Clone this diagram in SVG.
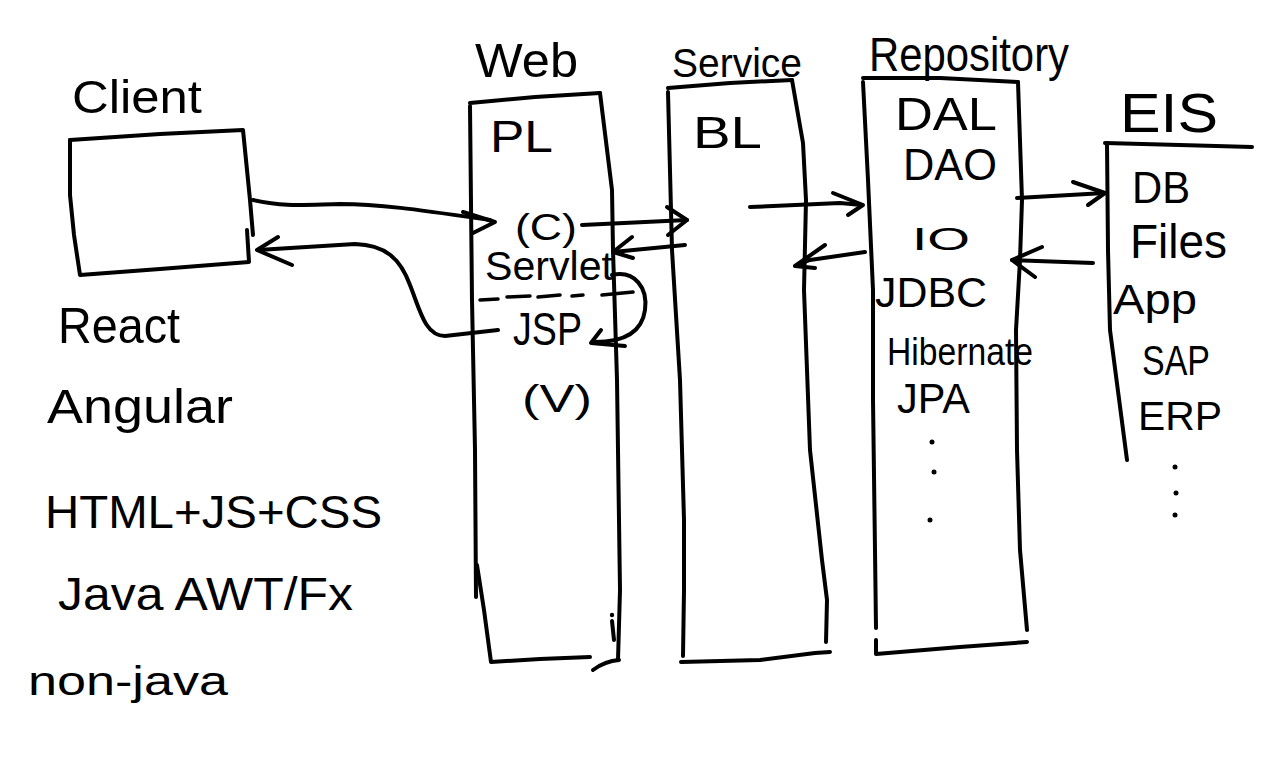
<svg xmlns="http://www.w3.org/2000/svg" width="1280" height="768" viewBox="0 0 1280 768">
<defs>
<style>
.ink{fill:none;stroke:#000;stroke-width:4;stroke-linecap:round;stroke-linejoin:round}
.dash{fill:none;stroke:#000;stroke-width:3.5;stroke-linecap:round}
.t{font-family:"Liberation Sans","DejaVu Sans",sans-serif;fill:#000}
.dot{fill:#000}
</style>
</defs>
<rect width="1280" height="768" fill="#fff"/>

<g id="client">
<path class="ink" d="M70,140 L160,134 L243,130 L250,200 L253,235"/>
<path class="ink" d="M247,230 L249,262 L160,269 L80,275 L74,235 L70,195 L70,140"/>
<text class="t" x="72" y="113" font-size="46" textLength="130" lengthAdjust="spacingAndGlyphs">Client</text>
</g>

<g id="client-tech">
<text class="t" x="58" y="343" font-size="50" textLength="122" lengthAdjust="spacingAndGlyphs">React</text>
<text class="t" x="47" y="423" font-size="48" textLength="186" lengthAdjust="spacingAndGlyphs">Angular</text>
<text class="t" x="45" y="528" font-size="46" textLength="337" lengthAdjust="spacingAndGlyphs">HTML+JS+CSS</text>
<text class="t" x="58" y="610" font-size="46" textLength="295" lengthAdjust="spacingAndGlyphs">Java AWT/Fx</text>
<text class="t" x="28" y="695" font-size="40" textLength="200" lengthAdjust="spacingAndGlyphs">non-java</text>
</g>

<g id="web">
<text class="t" x="475" y="77" font-size="48" textLength="103" lengthAdjust="spacingAndGlyphs">Web</text>
<path class="ink" d="M470,103 L535,97 L600,93"/>
<path class="ink" d="M470,106 L472,300 L475,450 L476,597"/>
<path class="ink" d="M477,565 L484,610 L491,662 L540,659 L590,657"/>
<path class="ink" d="M600,93 L612,190 L613,250 L617,380 L620,590 L618,660"/>
<path class="ink" d="M593,670 Q605,661 619,660"/>
<path class="ink" d="M612,621 L614,640"/>
<circle class="dot" cx="612" cy="615" r="2.2"/>
<text class="t" x="490" y="152" font-size="44" textLength="63" lengthAdjust="spacingAndGlyphs">PL</text>
<text class="t" x="515" y="240" font-size="36" textLength="62" lengthAdjust="spacingAndGlyphs">(C)</text>
<text class="t" x="485" y="280" font-size="40" textLength="128" lengthAdjust="spacingAndGlyphs">Servlet</text>
<text class="t" x="513" y="345" font-size="46" textLength="69" lengthAdjust="spacingAndGlyphs">JSP</text>
<text class="t" x="522" y="412" font-size="38" textLength="70" lengthAdjust="spacingAndGlyphs">(V)</text>
</g>

<g id="service">
<text class="t" x="672" y="77" font-size="40" textLength="130" lengthAdjust="spacingAndGlyphs">Service</text>
<path class="ink" d="M668,88 L730,83 L792,80"/>
<path class="ink" d="M668,92 L672,250 L680,380 L684,520 L684,590 L683,656"/>
<path class="ink" d="M681,662 L760,660 L815,653 L830,652"/>
<path class="ink" d="M792,80 L803,143 L806,200 L804,290 L810,450 L822,560 L827,600 L826,642"/>
<text class="t" x="693" y="148" font-size="44" textLength="69" lengthAdjust="spacingAndGlyphs">BL</text>
</g>

<g id="repository">
<text class="t" x="869" y="71" font-size="48" textLength="200" lengthAdjust="spacingAndGlyphs">Repository</text>
<path class="ink" d="M863,78 L940,78 L1018,82"/>
<path class="ink" d="M863,82 L868,180 L873,290 L873,400 L875,550 L876,628"/>
<path class="ink" d="M876,640 L876,654 L960,647 L1027,642"/>
<path class="ink" d="M1018,82 L1022,200 L1020,260 L1016,330 L1017,450 L1020,550 L1027,630"/>
<text class="t" x="895" y="130" font-size="46" textLength="102" lengthAdjust="spacingAndGlyphs">DAL</text>
<text class="t" x="903" y="180" font-size="44" textLength="94" lengthAdjust="spacingAndGlyphs">DAO</text>
<text class="t" x="912" y="250" font-size="32" textLength="58" lengthAdjust="spacingAndGlyphs">IO</text>
<text class="t" x="875" y="307" font-size="42" textLength="112" lengthAdjust="spacingAndGlyphs">JDBC</text>
<text class="t" x="887" y="365" font-size="38" textLength="146" lengthAdjust="spacingAndGlyphs">Hibernate</text>
<text class="t" x="897" y="413" font-size="42" textLength="73" lengthAdjust="spacingAndGlyphs">JPA</text>
<circle class="dot" cx="932" cy="442" r="2.5"/>
<circle class="dot" cx="934" cy="472" r="2.5"/>
<circle class="dot" cx="930" cy="520" r="2.5"/>
</g>

<g id="eis">
<text class="t" x="1120" y="132" font-size="56" textLength="98" lengthAdjust="spacingAndGlyphs">EIS</text>
<path class="ink" d="M1105,143 L1180,145 L1252,147"/>
<path class="ink" d="M1107,143 L1108,250 L1110,330 L1127,460"/>
<text class="t" x="1132" y="203" font-size="44" textLength="58" lengthAdjust="spacingAndGlyphs">DB</text>
<text class="t" x="1130" y="258" font-size="48" textLength="97" lengthAdjust="spacingAndGlyphs">Files</text>
<text class="t" x="1113" y="314" font-size="42" textLength="84" lengthAdjust="spacingAndGlyphs">App</text>
<text class="t" x="1142" y="375" font-size="42" textLength="68" lengthAdjust="spacingAndGlyphs">SAP</text>
<text class="t" x="1138" y="430" font-size="40" textLength="84" lengthAdjust="spacingAndGlyphs">ERP</text>
<circle class="dot" cx="1175" cy="467" r="2.5"/>
<circle class="dot" cx="1176" cy="493" r="2.5"/>
<circle class="dot" cx="1175" cy="515" r="2.5"/>
</g>

<g id="connectors">
<path class="ink" d="M253,200 C285,207 300,205 340,204 C380,204 420,210 490,220"/>
<path class="ink" d="M463,212 L495,222 L473,233"/>
<path class="ink" d="M498,330 L445,336 C425,336 420,310 410,285 C400,258 385,245 355,244 L258,250"/>
<path class="ink" d="M278,237 L257,250 L292,265"/>
<path class="ink" d="M582,225 L687,220"/>
<path class="ink" d="M667,207 L687,220 L668,235"/>
<path class="ink" d="M685,245 L613,252"/>
<path class="ink" d="M632,237 L613,252 L633,258"/>
<path class="ink" d="M612,275 C635,270 648,288 645,310 C642,332 625,342 595,342"/>
<path class="ink" d="M601,330 L591,343 L625,346"/>
<path class="dash" d="M480,300 L498,299 M507,297 L530,296 M538,297 L560,295 M572,296 L583,295 M602,295 L633,292"/>
<path class="ink" d="M750,207 L840,203 L862,205"/>
<path class="ink" d="M833,193 L863,205 L848,215"/>
<path class="ink" d="M865,252 L810,260 L797,265"/>
<path class="ink" d="M825,245 L795,266 L815,268"/>
<path class="ink" d="M1017,198 L1105,193"/>
<path class="ink" d="M1073,182 L1105,193 L1088,205"/>
<path class="ink" d="M1093,263 L1012,260"/>
<path class="ink" d="M1042,247 L1012,260 L1035,277"/>
</g>
</svg>
